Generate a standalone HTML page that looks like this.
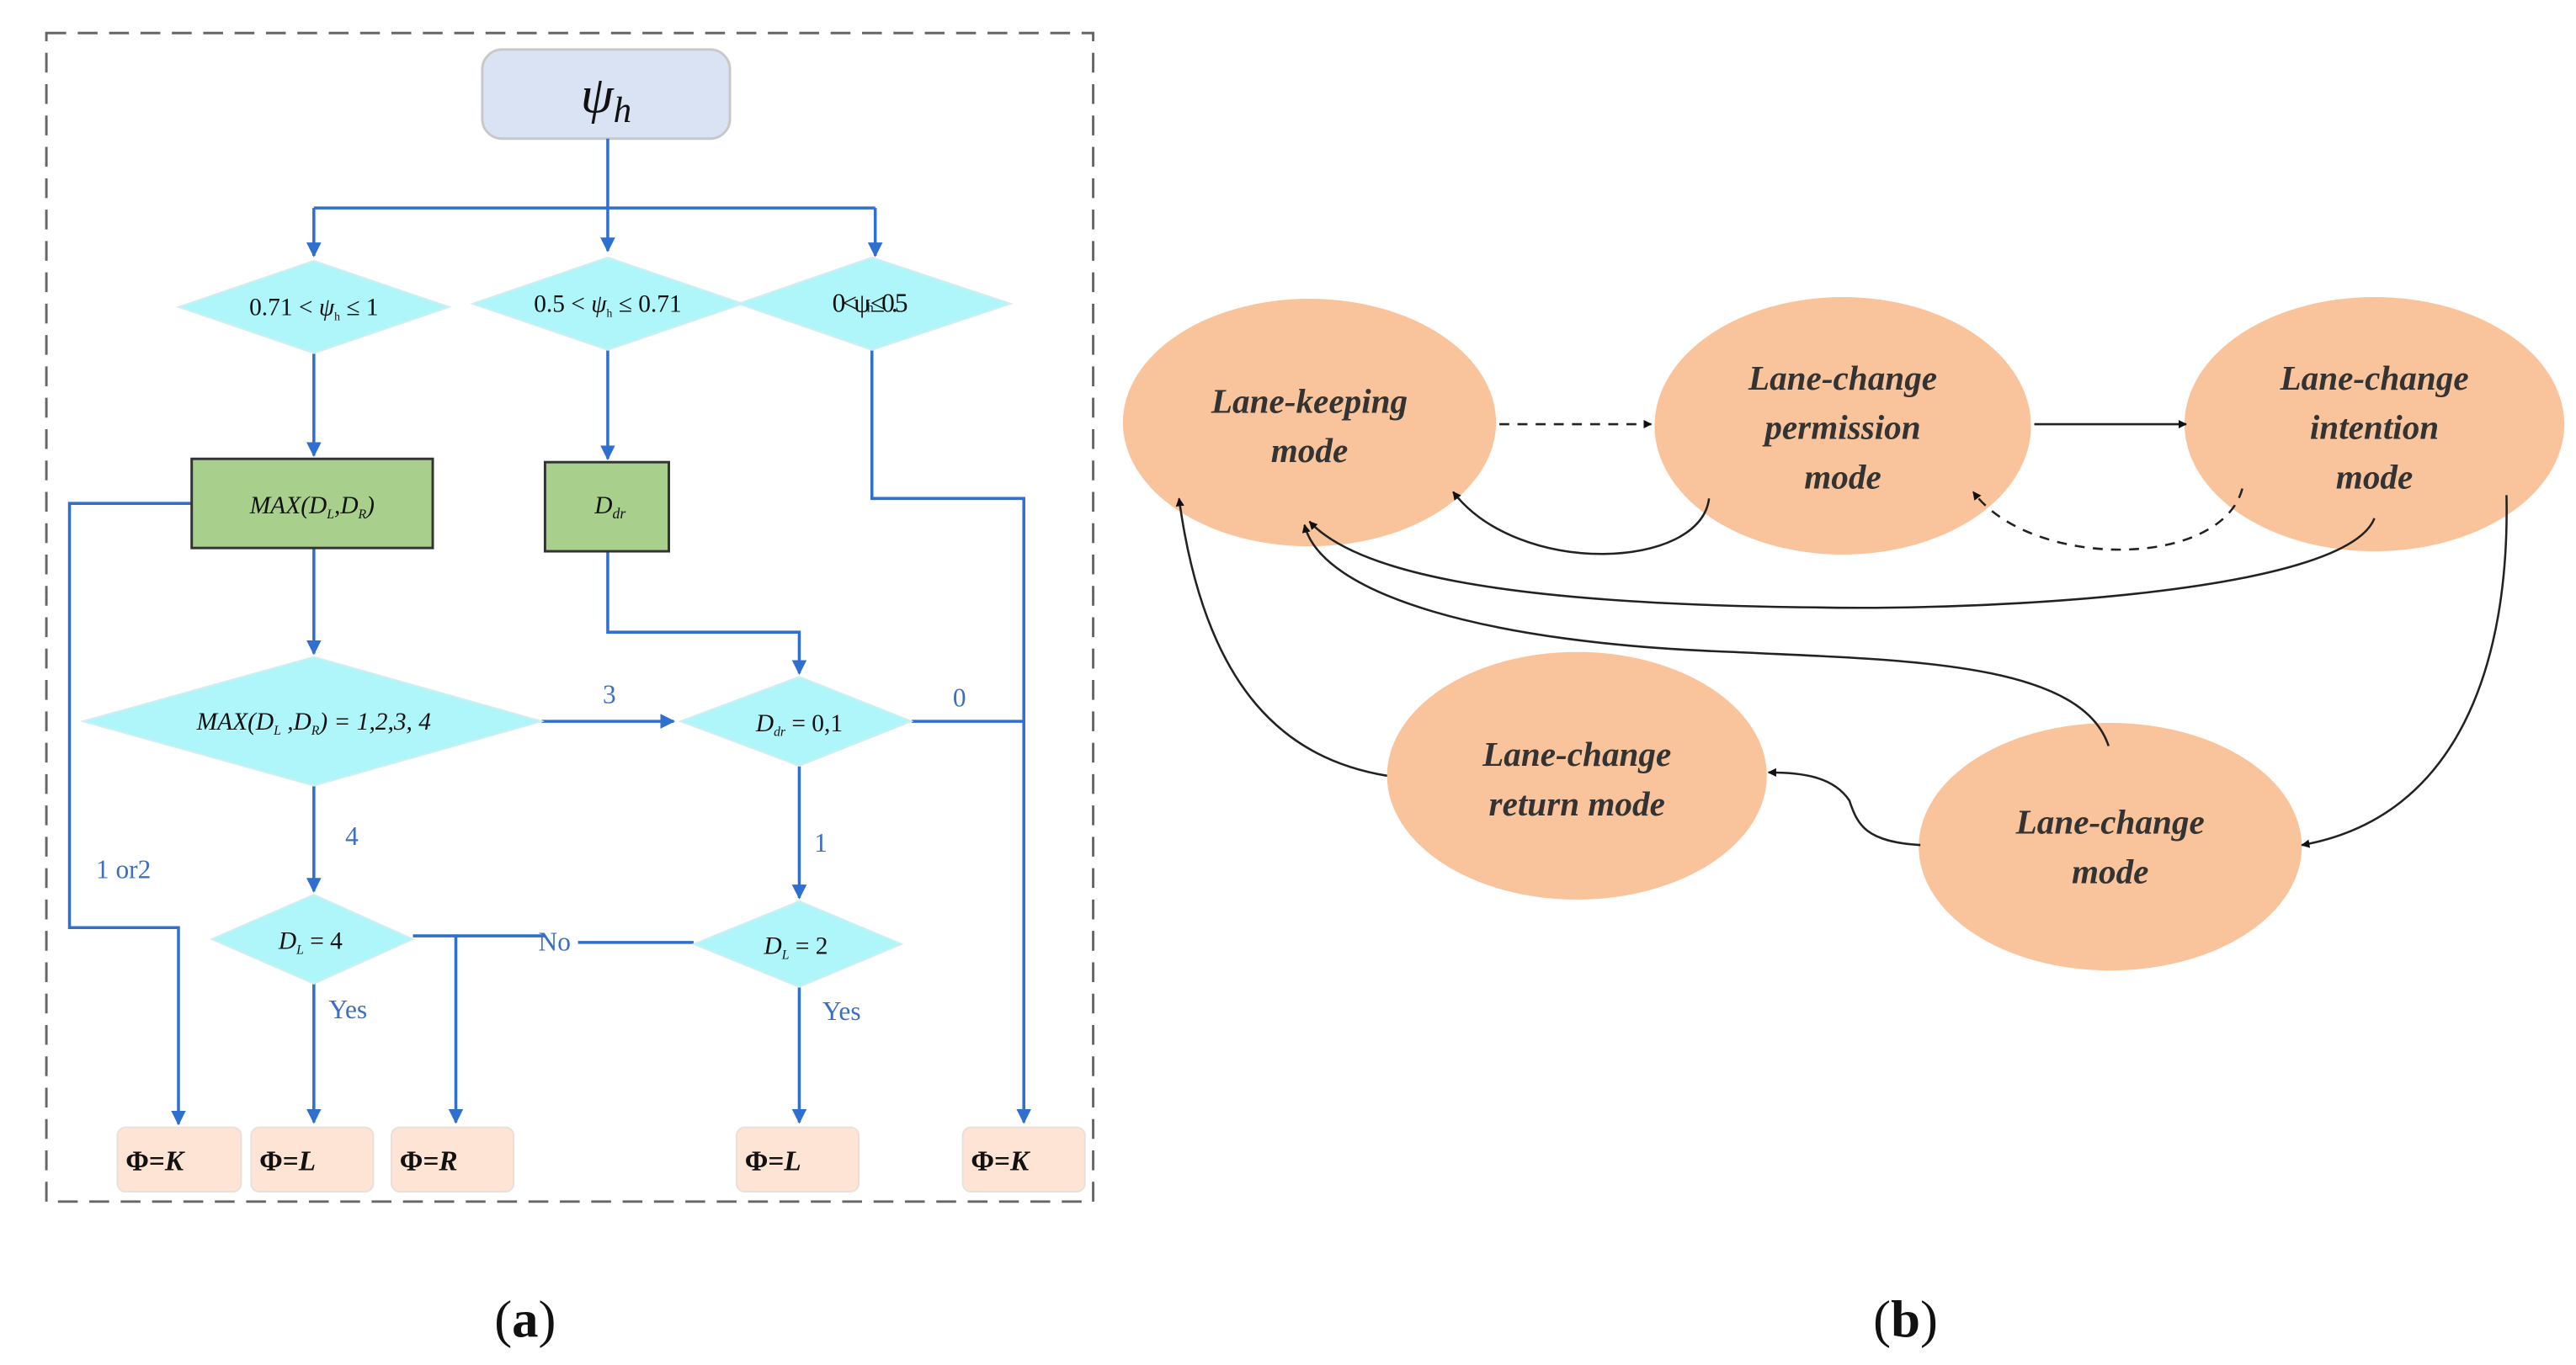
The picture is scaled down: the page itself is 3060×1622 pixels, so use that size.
<!DOCTYPE html>
<html><head><meta charset="utf-8"><style>
html,body{margin:0;padding:0;background:#fff;}
svg{display:block;}
.ft{font-family:"Liberation Serif",serif;font-size:15px;fill:#111;font-style:italic;}
.lb{font-family:"Liberation Serif",serif;font-size:16px;fill:#3a6fc4;}
.et{font-family:"Liberation Serif",serif;font-size:21px;font-weight:bold;font-style:italic;fill:#333;text-anchor:middle;}
</style></head><body>
<svg width="3060" height="1622" viewBox="0 0 1560 827" xmlns="http://www.w3.org/2000/svg">
<defs>
<marker id="ab" viewBox="0 0 10 10" refX="9" refY="5" markerWidth="5" markerHeight="5" orient="auto"><path d="M0,0L10,5L0,10z" fill="#2f6fd0"/></marker>
<marker id="ak" viewBox="0 0 10 10" refX="9" refY="5" markerWidth="4" markerHeight="4" orient="auto"><path d="M0,0L10,5L0,10z" fill="#111"/></marker>
</defs>
<!-- left panel -->
<rect x="28" y="20" width="634" height="708" fill="none" stroke="#666" stroke-width="1.5" stroke-dasharray="12,7"/>
<rect x="292" y="30" width="150" height="54" rx="12" fill="#dae3f3" stroke="#c8c8c8" stroke-width="1.5"/>
<text x="367" y="68" font-family="Liberation Serif,serif" font-size="32" font-style="italic" text-anchor="middle" fill="#111">ψ<tspan font-size="22" dy="6">h</tspan></text>
<g stroke="#2f6fd0" stroke-width="1.8" fill="none">
<path d="M368,84V152" marker-end="url(#ab)"/>
<path d="M190,126H530"/>
<path d="M190,126V155" marker-end="url(#ab)"/>
<path d="M530,126V155" marker-end="url(#ab)"/>
<path d="M190,214V276" marker-end="url(#ab)"/>
<path d="M368,212V278" marker-end="url(#ab)"/>
<path d="M528,212V302H620V680" marker-end="url(#ab)"/>
<path d="M116,305H42V562H108V681" marker-end="url(#ab)"/>
<path d="M190,332V396" marker-end="url(#ab)"/>
<path d="M368,334V383H484V408" marker-end="url(#ab)"/>
<path d="M328,437H408" marker-end="url(#ab)"/>
<path d="M552,437H620"/>
<path d="M190,476V540" marker-end="url(#ab)"/>
<path d="M484,464V544" marker-end="url(#ab)"/>
<path d="M250,567H276V680" marker-end="url(#ab)"/>
<path d="M276,567H330M350,571H420"/>
<path d="M190,596V680" marker-end="url(#ab)"/>
<path d="M484,598V680" marker-end="url(#ab)"/>
</g>
<g fill="#aff6fa" stroke="#d0eef0" stroke-width="1">
<polygon points="108,186 190,158 272,186 190,214"/>
<polygon points="286,184 368,156 450,184 368,212"/>
<polygon points="447,184 528,156 612,184 528,212"/>
<polygon points="50,437 190,398 328,437 190,476"/>
<polygon points="412,437 484,410 552,437 484,464"/>
<polygon points="128,569 190,542 250,569 190,596"/>
<polygon points="420,572 484,546 546,572 484,598"/>
</g>
<rect x="116" y="278" width="146" height="54" fill="#a9cf8c" stroke="#333" stroke-width="1.5"/>
<rect x="330" y="280" width="75" height="54" fill="#a9cf8c" stroke="#333" stroke-width="1.5"/>
<text class="ft" x="189" y="311" text-anchor="middle">MAX(D<tspan font-size="8" dy="3">L</tspan><tspan dy="-3">,D</tspan><tspan font-size="8" dy="3">R</tspan><tspan dy="-3">)</tspan></text>
<text class="ft" x="360" y="311" font-size="18">D<tspan font-size="9" dy="3">dr</tspan></text>
<text x="190" y="191" font-family="Liberation Serif,serif" font-size="15" text-anchor="middle" fill="#111">0.71 &lt; <tspan font-style="italic">ψ</tspan><tspan font-size="7" dy="3">h</tspan><tspan dy="-3"> ≤ 1</tspan></text>
<text x="368" y="189" font-family="Liberation Serif,serif" font-size="15" text-anchor="middle" fill="#111">0.5 &lt; <tspan font-style="italic">ψ</tspan><tspan font-size="7" dy="3">h</tspan><tspan dy="-3"> ≤ 0.71</tspan></text>
<text x="504" y="189" font-family="Liberation Serif,serif" font-size="16" fill="#111" letter-spacing="-2">0&lt;ψ<tspan font-size="8">h</tspan>≤0.5</text>
<text class="ft" x="190" y="442" text-anchor="middle">MAX(D<tspan font-size="8" dy="3">L</tspan><tspan dy="-3"> ,D</tspan><tspan font-size="8" dy="3">R</tspan><tspan dy="-3">) = 1,2,3, 4</tspan></text>
<text class="ft" x="484" y="443" text-anchor="middle" font-size="17">D<tspan font-size="8" dy="3">dr</tspan><tspan dy="-3" font-style="normal"> = 0,1</tspan></text>
<text class="ft" x="188" y="575" text-anchor="middle" font-size="17">D<tspan font-size="8" dy="3">L</tspan><tspan dy="-3" font-style="normal"> = 4</tspan></text>
<text class="ft" x="482" y="578" text-anchor="middle" font-size="17">D<tspan font-size="8" dy="3">L</tspan><tspan dy="-3" font-style="normal"> = 2</tspan></text>
<text class="lb" x="365" y="426">3</text>
<text class="lb" x="577" y="428">0</text>
<text class="lb" x="209" y="512">4</text>
<text class="lb" x="493" y="516">1</text>
<text class="lb" x="58" y="532">1 or2</text>
<text class="lb" x="326" y="576">No</text>
<text class="lb" x="199" y="617">Yes</text>
<text class="lb" x="498" y="618">Yes</text>
<g fill="#fde4d4" stroke="#e8e0dc" stroke-width="1">
<rect x="71" y="683" width="75" height="39" rx="5"/>
<rect x="152" y="683" width="74" height="39" rx="5"/>
<rect x="237" y="683" width="74" height="39" rx="5"/>
<rect x="446" y="683" width="74" height="39" rx="5"/>
<rect x="583" y="683" width="74" height="39" rx="5"/>
</g>
<g font-family="Liberation Serif,serif" font-size="17" font-weight="bold" fill="#111">
<text x="76" y="709">Φ=<tspan font-style="italic">K</tspan></text>
<text x="157" y="709">Φ=<tspan font-style="italic">L</tspan></text>
<text x="242" y="709">Φ=<tspan font-style="italic">R</tspan></text>
<text x="451" y="709">Φ=<tspan font-style="italic">L</tspan></text>
<text x="588" y="709">Φ=<tspan font-style="italic">K</tspan></text>
</g>
<!-- right panel -->
<g fill="#f9c49b">
<ellipse cx="793" cy="256" rx="113" ry="75"/>
<ellipse cx="1116" cy="258" rx="114" ry="78"/>
<ellipse cx="1438" cy="257" rx="115" ry="77"/>
<ellipse cx="955" cy="470" rx="115" ry="75"/>
<ellipse cx="1278" cy="513" rx="116" ry="75"/>
</g>
<g stroke="#222" stroke-width="1.3" fill="none">
<path d="M908,257H1000" stroke-dasharray="6,5" marker-end="url(#ak)"/>
<path d="M1232,257H1324" marker-end="url(#ak)"/>
<path d="M1035,302C1030,345 920,350 880,298" marker-end="url(#ak)"/>
<path d="M1358,296C1345,345 1230,345 1195,298" stroke-dasharray="6,5" marker-end="url(#ak)"/>
<path d="M1438,314C1420,360 1200,370 1100,368C900,366 820,345 793,316" marker-end="url(#ak)"/>
<path d="M1277,452C1260,400 1150,400 1050,395C900,390 800,360 790,318" marker-end="url(#ak)"/>
<path d="M1518,300C1520,400 1490,495 1394,512" marker-end="url(#ak)"/>
<path d="M1163,512C1130,510 1125,500 1120,485C1110,470 1090,468 1071,468" marker-end="url(#ak)"/>
<path d="M840,470C780,460 730,420 714,302" marker-end="url(#ak)"/>
</g>
<text class="et" x="793" y="250">Lane-keeping</text>
<text class="et" x="793" y="280">mode</text>
<text class="et" x="1116" y="236">Lane-change</text>
<text class="et" x="1116" y="266">permission</text>
<text class="et" x="1116" y="296">mode</text>
<text class="et" x="1438" y="236">Lane-change</text>
<text class="et" x="1438" y="266">intention</text>
<text class="et" x="1438" y="296">mode</text>
<text class="et" x="955" y="464">Lane-change</text>
<text class="et" x="955" y="494">return mode</text>
<text class="et" x="1278" y="505">Lane-change</text>
<text class="et" x="1278" y="535">mode</text>
<text x="318" y="810" font-family="Liberation Serif,serif" font-size="32" text-anchor="middle" fill="#111">(<tspan font-weight="bold">a</tspan>)</text>
<text x="1154" y="810" font-family="Liberation Serif,serif" font-size="32" text-anchor="middle" fill="#111">(<tspan font-weight="bold">b</tspan>)</text>
</svg>
</body></html>
